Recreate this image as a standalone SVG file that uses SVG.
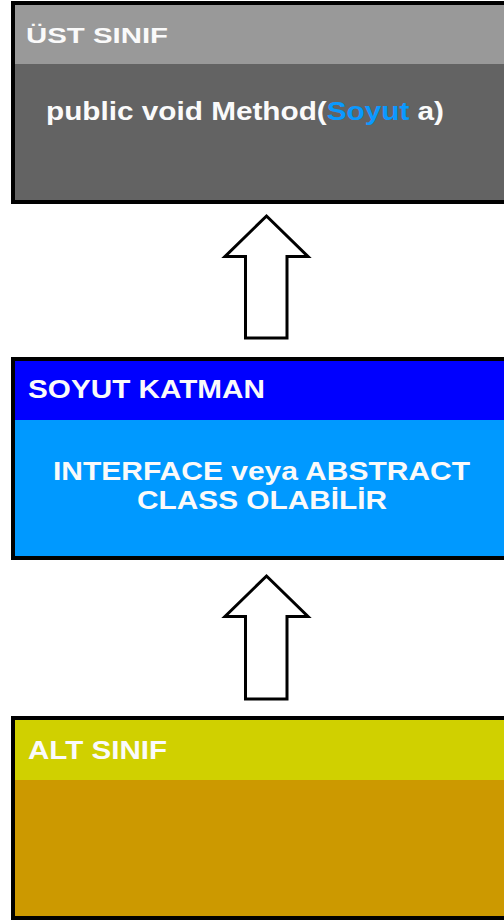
<svg xmlns="http://www.w3.org/2000/svg" width="504" height="923" viewBox="0 0 504 923">
  <style>
    .frame { fill: none; stroke: #000; stroke-width: 4; }
    .lbl { font-family: "Liberation Sans", Arial, sans-serif; font-weight: bold; fill: #fafafa; }
    .up { fill: #fff; stroke: #000; stroke-width: 3; stroke-linejoin: miter; }
  </style>
  <rect width="504" height="923" fill="#fff"/>

  <!-- upper class -->
  <g id="ust-sinif">
    <rect x="13" y="3" width="500" height="61" fill="#999999"/>
    <rect x="13" y="64" width="500" height="138" fill="#636363"/>
    <rect class="frame" x="13" y="3" width="500" height="199"/>
    <text class="lbl" x="26" y="43" font-size="22" textLength="142" lengthAdjust="spacingAndGlyphs">ÜST SINIF</text>
    <text class="lbl" x="46" y="120" font-size="26" textLength="398" lengthAdjust="spacingAndGlyphs">public void Method(<tspan fill="#0a99ff">Soyut</tspan> a)</text>
  </g>

  <!-- abstraction layer -->
  <g id="soyut-katman">
    <rect x="13" y="359" width="500" height="61" fill="#0000ff"/>
    <rect x="13" y="420" width="500" height="138" fill="#0099ff"/>
    <rect class="frame" x="13" y="359" width="500" height="199"/>
    <text class="lbl" x="28" y="398" font-size="25" textLength="237" lengthAdjust="spacingAndGlyphs">SOYUT KATMAN</text>
    <text class="lbl" x="261.5" y="480" font-size="25" text-anchor="middle" textLength="417" lengthAdjust="spacingAndGlyphs">INTERFACE veya ABSTRACT</text>
    <text class="lbl" x="262" y="509" font-size="25" text-anchor="middle" textLength="250" lengthAdjust="spacingAndGlyphs">CLASS OLABİLİR</text>
  </g>

  <!-- subclass -->
  <g id="alt-sinif">
    <rect x="13" y="718" width="500" height="62" fill="#d0d000"/>
    <rect x="13" y="780" width="500" height="138" fill="#cc9900"/>
    <rect class="frame" x="13" y="718" width="500" height="200"/>
    <text class="lbl" x="28" y="759" font-size="25" textLength="139" lengthAdjust="spacingAndGlyphs">ALT SINIF</text>
  </g>

  <!-- block arrows between layers -->
  <g id="connectors">
    <polygon class="up" points="266.5,216 308,256.5 287,256.5 287,338 245.5,338 245.5,256.5 225,256.5"/>
    <polygon class="up" points="266.5,576 308,616.5 287,616.5 287,699 245.5,699 245.5,616.5 225,616.5"/>
  </g>
</svg>
